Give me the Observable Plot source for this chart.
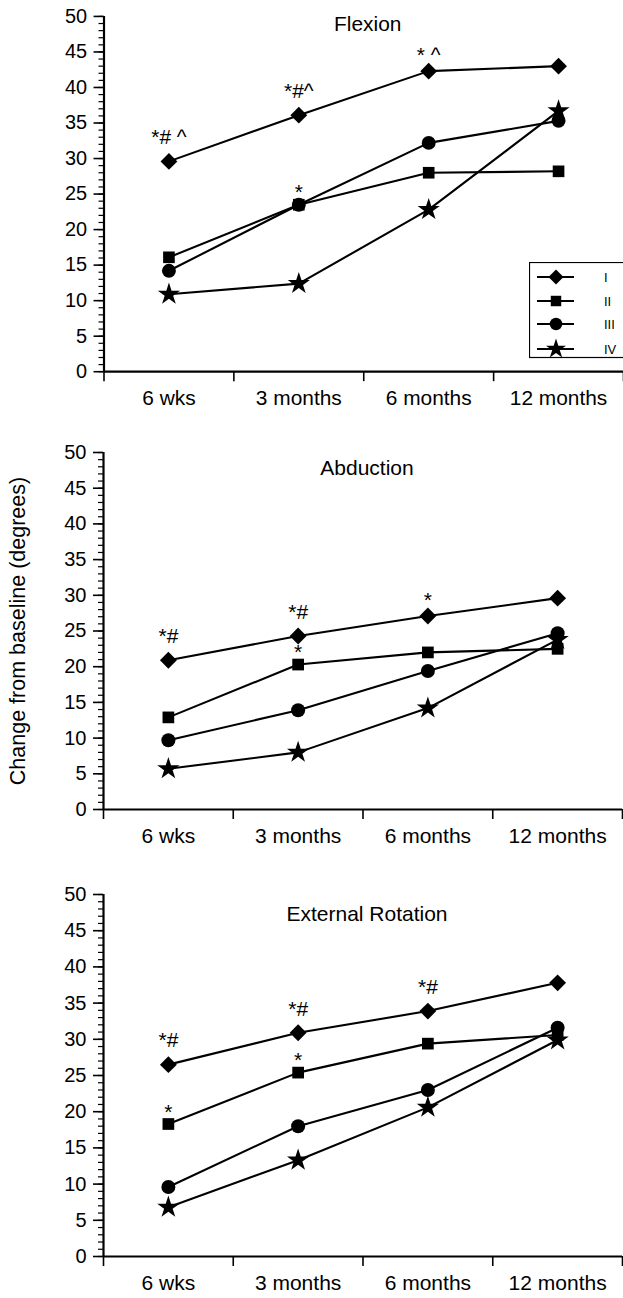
<!DOCTYPE html>
<html>
<head>
<meta charset="utf-8">
<script src="https://cdn.jsdelivr.net/npm/d3@7"></script>
<script src="https://cdn.jsdelivr.net/npm/@observablehq/plot@0.6"></script>
<style>
  body { margin: 0; background: #fff; }
  #wrap { position: relative; width: 623px; height: 1298px; overflow: hidden; background: #fff;
          font-family: "Liberation Sans", Arial, Helvetica, sans-serif; }
  .panel { position: absolute; left: 0; }
  #legend { position: absolute; }
</style>
</head>
<body>
<div id="wrap"></div>
<script>
// ---------- data ----------
const timepoints = ["6 wks", "3 months", "6 months", "12 months"];
const groups = ["I", "II", "III", "IV"];
const yTicks = [0, 5, 10, 15, 20, 25, 30, 35, 40, 45, 50];

const flexionI   = [29.6, 36.1, 42.3, 43.0];
const flexionII  = [16.1, 23.5, 28.0, 28.2];
const flexionIII = [14.2, 23.5, 32.2, 35.3];
const flexionIV  = [10.9, 12.4, 22.8, 36.7];

const abductionI   = [20.9, 24.3, 27.1, 29.6];
const abductionII  = [12.9, 20.3, 22.0, 22.5];
const abductionIII = [9.7, 13.9, 19.4, 24.7];
const abductionIV  = [5.7, 8.0, 14.2, 23.8];

const rotationI   = [26.5, 30.9, 33.9, 37.8];
const rotationII  = [18.3, 25.4, 29.4, 30.6];
const rotationIII = [9.6, 18.0, 23.0, 31.6];
const rotationIV  = [6.8, 13.3, 20.6, 29.9];

const flexionNotes = [
  {group: "I", time: "6 wks", text: "*# ^"},
  {group: "I", time: "3 months", text: "*#^"},
  {group: "I", time: "6 months", text: "* ^"},
  {group: "II", time: "3 months", text: "*"}
];
const abductionNotes = [
  {group: "I", time: "6 wks", text: "*#"},
  {group: "I", time: "3 months", text: "*#"},
  {group: "I", time: "6 months", text: "*"},
  {group: "II", time: "3 months", text: "*"}
];
const rotationNotes = [
  {group: "I", time: "6 wks", text: "*#"},
  {group: "I", time: "3 months", text: "*#"},
  {group: "I", time: "6 months", text: "*#"},
  {group: "II", time: "6 wks", text: "*"},
  {group: "II", time: "3 months", text: "*"}
];

// ---------- styling / layout ----------
const symbols = {I: "diamond2", II: "square", III: "circle", IV: "star"};
const radii   = {I: 7.6, II: 6.6, III: 7.0, IV: 7.0};
const FONT = "'Liberation Sans', Arial, Helvetica, sans-serif";

const panels = [
  {title: "Flexion", series: [flexionI, flexionII, flexionIII, flexionIV], notes: flexionNotes,
   top: 0, left: 104, width: 626, plotH: 357, titleDy: 8, ylabel: false, legend: true},
  {title: "Abduction", series: [abductionI, abductionII, abductionIII, abductionIV], notes: abductionNotes,
   top: 436, left: 103, width: 622, plotH: 357, titleDy: 16, ylabel: true, legend: false},
  {title: "External Rotation", series: [rotationI, rotationII, rotationIII, rotationIV], notes: rotationNotes,
   top: 878, left: 103, width: 622, plotH: 362, titleDy: 20, ylabel: false, legend: false}
];

const wrap = document.getElementById("wrap");

for (const p of panels) {
  const rows = groups.flatMap((g, gi) =>
    p.series[gi].map((v, ti) => ({group: g, t: ti + 0.5, value: v})));
  const valueOf = (g, time) => p.series[groups.indexOf(g)][timepoints.indexOf(time)];
  const noteX = d => timepoints.indexOf(d.time) + 0.5;
  const noteY = d => valueOf(d.group, d.time);
  const hashNotes  = p.notes.filter(d => d.text.includes("#"));
  const starTopI   = p.notes.filter(d => !d.text.includes("#") && d.group === "I");
  const starOthers = p.notes.filter(d => !d.text.includes("#") && d.group !== "I");

  const marks = [
    // axes
    Plot.axisY({ticks: d3.range(0, 51, 1), tickSize: 5, tickFormat: () => "", strokeWidth: 1.2, label: null}),
    Plot.axisY({ticks: yTicks, tickSize: 10, tickPadding: 7, fontSize: 20, strokeWidth: 1.6, label: null}),
    Plot.axisX({ticks: [0, 1, 2, 3, 4], tickSize: 10, tickFormat: () => "", strokeWidth: 1.6, label: null}),
    Plot.axisX({ticks: timepoints.map((_, i) => i + 0.5), tickSize: 0, tickPadding: 19,
                tickFormat: v => timepoints[Math.floor(v)], fontSize: 21, label: null}),
    Plot.ruleY([0], {stroke: "black", strokeWidth: 2.2}),
    Plot.ruleX([0], {y1: 0, y2: 50, stroke: "black", strokeWidth: 2.2}),
    // title
    Plot.text([p.title], {text: d => d, frameAnchor: "top", lineAnchor: "middle", dx: 4, dy: p.titleDy, fontSize: 21}),
    // lines
    Plot.line(rows, {x: "t", y: "value", z: "group", stroke: "black", strokeWidth: 2.1}),
    // markers
    ...groups.map(g => Plot.dot(rows.filter(d => d.group === g),
      {x: "t", y: "value", symbol: symbols[g], r: radii[g], fill: "black", stroke: "none"})),
    // significance annotations
    Plot.text(hashNotes, {x: noteX, y: noteY, text: "text", dy: -24, fontSize: 21}),
    Plot.text(starTopI, {x: noteX, y: noteY, text: "text", dy: -16, fontSize: 21}),
    Plot.text(starOthers, {x: noteX, y: noteY, text: "text", dy: -12, fontSize: 21})
  ];
  if (p.ylabel) {
    marks.push(Plot.text(["Change from baseline (degrees)"],
      {text: d => d, frameAnchor: "left", textAnchor: "middle", lineAnchor: "middle",
       dx: -85, rotate: -90, fontSize: 21.5}));
  }

  const chart = Plot.plot({
    width: p.width,
    height: 16 + p.plotH + 50,
    marginTop: 16,
    marginBottom: 50,
    marginLeft: p.left,
    marginRight: 0,
    x: {type: "linear", domain: [0, 4]},
    y: {domain: [0, 50]},
    style: {fontFamily: FONT, fontSize: "20px", color: "black", background: "transparent", overflow: "visible"},
    marks
  });
  chart.classList.add("panel");
  chart.style.top = p.top + "px";
  wrap.appendChild(chart);

  if (p.legend) {
    const lg = d3.create("svg").attr("id", "legend").attr("width", 100).attr("height", 98)
      .style("left", "529px").style("top", "262px").style("position", "absolute");
    lg.append("rect").attr("x", 0.5).attr("y", 0.5).attr("width", 120).attr("height", 95)
      .attr("fill", "white").attr("stroke", "black").attr("stroke-width", 1.2);
    const ly = [15, 39, 62, 87];
    const d3sym = {I: d3.symbolDiamond2, II: d3.symbolSquare, III: d3.symbolCircle, IV: d3.symbolStar};
    groups.forEach((g, i) => {
      lg.append("line").attr("x1", 8).attr("x2", 45).attr("y1", ly[i]).attr("y2", ly[i])
        .attr("stroke", "black").attr("stroke-width", 2);
      lg.append("path").attr("d", d3.symbol(d3sym[g], Math.PI * radii[g] * radii[g] * 0.8)())
        .attr("transform", `translate(27,${ly[i]})`).attr("fill", "black");
      lg.append("text").attr("x", 75).attr("y", ly[i]).attr("dy", "0.35em")
        .attr("font-family", FONT).attr("font-size", 13).text(g);
    });
    wrap.appendChild(lg.node());
  }
}
</script>
</body>
</html>
